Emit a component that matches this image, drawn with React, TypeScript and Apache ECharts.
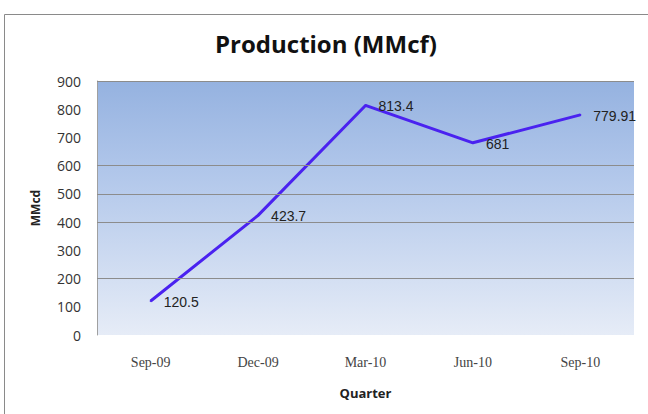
import React, { useEffect, useRef } from "react";
import * as echarts from "echarts";

const quarters = ["Sep-09", "Dec-09", "Mar-10", "Jun-10", "Sep-10"];
const production = [120.5, 423.7, 813.4, 681, 779.91];
const visibleGridValues = [200, 400, 500, 600, 900];

export default function App() {
  const ref = useRef<HTMLDivElement>(null);
  useEffect(() => {
    if (!ref.current) return;
    const chart = echarts.init(ref.current, null, { renderer: "svg" });
    chart.setOption({
      animation: false,
      backgroundColor: "#ffffff",
      title: {
        text: "Production (MMcf)",
        left: 210,
        top: 26,
        textStyle: {
          fontFamily: "Open Sans",
          fontWeight: "bold",
          fontSize: 24,
          color: "#111",
        },
      },
      graphic: [
        {
          type: "rect",
          shape: { x: 4.5, y: 14.5, width: 700, height: 500 },
          style: { fill: "none", stroke: "#8a8a8a", lineWidth: 1 },
          silent: true,
        },
      ],
      grid: {
        left: 97,
        right: 14,
        top: 81,
        bottom: 79,
        show: true,
        borderWidth: 0,
        backgroundColor: new echarts.graphic.LinearGradient(0, 0, 0, 1, [
          { offset: 0, color: "#95b2e0" },
          { offset: 0.35, color: "#b0c6ea" },
          { offset: 1, color: "#e6ecf7" },
        ]),
      },
      xAxis: {
        type: "category",
        data: quarters,
        boundaryGap: true,
        axisLine: { show: false },
        axisTick: { show: false },
        axisLabel: {
          margin: 20,
          fontFamily: "Liberation Serif",
          fontSize: 14,
          color: "#444",
        },
        name: "Quarter",
        nameLocation: "middle",
        nameGap: 51,
        nameTextStyle: {
          fontFamily: "Open Sans",
          fontWeight: "bold",
          fontSize: 13,
          color: "#222",
        },
      },
      yAxis: {
        type: "value",
        min: 0,
        max: 900,
        interval: 100,
        axisLine: { show: true, lineStyle: { color: "#a0a0a0", width: 1 } },
        axisTick: { show: false },
        splitLine: { show: false },
        axisLabel: {
          margin: 16,
          fontFamily: "Open Sans",
          fontSize: 14,
          color: "#333",
        },
        name: "MMcd",
        nameLocation: "middle",
        nameGap: 56,
        nameTextStyle: {
          fontFamily: "Open Sans",
          fontWeight: "bold",
          fontSize: 12,
          color: "#222",
        },
      },
      series: [
        {
          type: "line",
          data: production,
          showSymbol: true,
          symbol: "circle",
          symbolSize: 2,
          itemStyle: { color: "#4a22f0" },
          lineStyle: { color: "#4a22f0", width: 3 },
          label: {
            show: true,
            position: "right",
            distance: 12,
            offset: [0, 1],
            fontFamily: "Liberation Sans",
            fontSize: 14,
            color: "#222",
          },
          markLine: {
            silent: true,
            symbol: ["none", "none"],
            label: { show: false },
            lineStyle: { color: "#8c8c8c", type: "solid", width: 1 },
            data: visibleGridValues.map((v) => ({ yAxis: v })),
          },
          z: 3,
        },
      ],
    });
    return () => chart.dispose();
  }, []);
  return (
    <div
      ref={ref}
      style={{ position: "fixed", left: 0, top: 0, width: 648, height: 414 }}
    />
  );
}
